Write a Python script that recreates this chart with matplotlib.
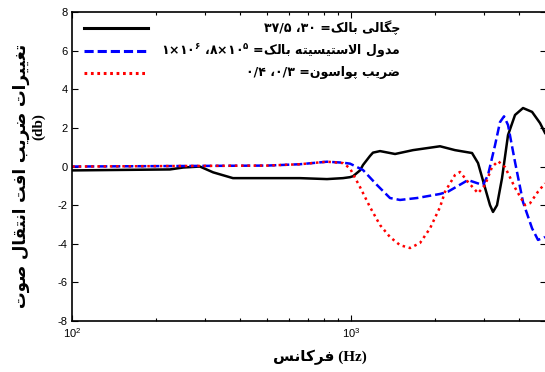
import matplotlib
matplotlib.use('Agg')
import matplotlib.pyplot as plt

# frequency (Hz) / change of transmission loss (dB)
f_rho = [100, 224, 250, 287, 320, 377, 500, 656, 820, 936, 992, 1017, 1077, 1104, 1170, 1199,
         1271, 1439, 1669, 2086, 2361, 2718, 2856, 3026, 3153, 3232, 3341, 3482, 3659, 3877,
         4142, 4463, 4767, 4967]
tl_rho = [-0.2, -0.15, -0.05, 0.0, -0.3, -0.6, -0.6, -0.6, -0.65, -0.6, -0.55, -0.5, -0.2, 0.08,
          0.55, 0.72, 0.8, 0.65, 0.85, 1.05, 0.85, 0.7, 0.18, -1.1, -2.0, -2.35, -2.0, -0.6, 1.63,
          2.67, 3.03, 2.83, 2.25, 1.74]

f_E = [100, 500, 656, 820, 936, 992, 1104, 1240, 1380, 1499, 1725, 2086, 2229, 2629, 2976,
       3101, 3286, 3424, 3540, 3659, 3877, 4142, 4463, 4688, 4967]
tl_E = [0.0, 0.05, 0.12, 0.25, 0.2, 0.15, -0.18, -0.96, -1.63, -1.73, -1.63, -1.42, -1.3, -0.7,
        -0.96, -0.44, 1.1, 2.3, 2.6, 2.15, 0.23, -1.84, -3.2, -3.8, -3.65]

f_nu = [100, 500, 656, 820, 936, 992, 1077, 1170, 1271, 1380, 1499, 1628, 1768, 1921, 2086,
        2175, 2361, 2461, 2629, 2856, 3026, 3205, 3369, 3570, 3877, 4211, 4389, 4688, 4967]
tl_nu = [0.0, 0.05, 0.12, 0.25, 0.18, -0.1, -1.06, -2.1, -3.03, -3.65, -4.07, -4.22, -3.96, -3.2,
         -2.1, -1.3, -0.44, -0.28, -0.8, -1.38, -0.96, -0.03, 0.28, -0.03, -1.1, -2.0, -1.9, -1.3,
         -0.87]

yticks = [-8, -6, -4, -2, 0, 2, 4, 6, 8]

# arabic presentation forms: isolated, final, initial, medial
FORMS = {
    'ا': ('\uFE8D', '\uFE8E', None, None),
    'ب': ('\uFE8F', '\uFE90', '\uFE91', '\uFE92'),
    'پ': ('\uFB56', '\uFB57', '\uFB58', '\uFB59'),
    'ت': ('\uFE95', '\uFE96', '\uFE97', '\uFE98'),
    'چ': ('\uFB7A', '\uFB7B', '\uFB7C', '\uFB7D'),
    'د': ('\uFEA9', '\uFEAA', None, None),
    'ر': ('\uFEAD', '\uFEAE', None, None),
    'س': ('\uFEB1', '\uFEB2', '\uFEB3', '\uFEB4'),
    'ص': ('\uFEB9', '\uFEBA', '\uFEBB', '\uFEBC'),
    'ض': ('\uFEBD', '\uFEBE', '\uFEBF', '\uFEC0'),
    'غ': ('\uFECD', '\uFECE', '\uFECF', '\uFED0'),
    'ف': ('\uFED1', '\uFED2', '\uFED3', '\uFED4'),
    'ق': ('\uFED5', '\uFED6', '\uFED7', '\uFED8'),
    'ک': ('\uFB8E', '\uFB8F', '\uFB90', '\uFB91'),
    'گ': ('\uFB92', '\uFB93', '\uFB94', '\uFB95'),
    'ل': ('\uFEDD', '\uFEDE', '\uFEDF', '\uFEE0'),
    'م': ('\uFEE1', '\uFEE2', '\uFEE3', '\uFEE4'),
    'ن': ('\uFEE5', '\uFEE6', '\uFEE7', '\uFEE8'),
    'ه': ('\uFEE9', '\uFEEA', '\uFEEB', '\uFEEC'),
    'و': ('\uFEED', '\uFEEE', None, None),
    'ی': ('\uFBFC', '\uFBFD', '\uFBFE', '\uFBFF'),
}


def dual(ch):
    return ch in FORMS and FORMS[ch][2] is not None


def fa(word):
    # shape one persian word and return it in visual (left to right) order
    out = []
    i = 0
    while i < len(word):
        c = word[i]
        jp = i > 0 and dual(word[i - 1])
        if c == 'ل' and i + 1 < len(word) and word[i + 1] == 'ا':
            out.append('\uFEFC' if jp else '\uFEFB')
            i += 2
            continue
        jn = dual(c) and i + 1 < len(word) and word[i + 1] in FORMS
        iso, fin, ini, med = FORMS[c]
        if jp and jn:
            out.append(med)
        elif jp:
            out.append(fin)
        elif jn:
            out.append(ini)
        else:
            out.append(iso)
        i += 1
    return ''.join(reversed(out))


def fa_line(*words):
    # words given in reading order, returned right to left
    return ' '.join(fa(w) for w in reversed(words))


lab_rho = '۳۷/۵ ،۳۰ =' + fa_line('چگالی', 'بالک')
lab_E = '۱×۱۰$^{۶}$ ،۸×۱۰$^{۵}$ =' + fa_line('مدول', 'الاستیسیته', 'بالک')
lab_nu = '۰/۴ ،۰/۳ =' + fa_line('ضریب', 'پواسون')
ylab = fa_line('تغییرات', 'ضریب', 'افت', 'انتقال', 'صوت')
xlab = fa('فرکانس') + ' (Hz)'

plt.rcParams['axes.unicode_minus'] = False
plt.rcParams['mathtext.default'] = 'regular'

fig = plt.figure(figsize=(5.45, 3.72), dpi=100)
ax = fig.add_axes([0.1327, 0.137, 0.8688, 0.8306])

ax.plot(f_rho, tl_rho, color='black', lw=1.8, solid_joinstyle='round')
ax.plot(f_E, tl_E, color='#0000ff', lw=1.8, dashes=(3.6, 1.6))
ax.plot(f_nu, tl_nu, color='#ff0000', lw=1.8, linestyle=(0, (1, 1.5)))

ax.set_xscale('log')
ax.set_xlim(100, 5000)
ax.set_ylim(-8, 8)
ax.set_yticks(yticks)
ax.tick_params(which='both', direction='in', top=True, right=True, labelsize=8,
               colors='black', width=0.8)
ax.tick_params(which='major', length=4)
ax.tick_params(which='minor', length=2.5)
for lbl in ax.get_xticklabels() + ax.get_yticklabels():
    lbl.set_family('Liberation Sans')
for s in ax.spines.values():
    s.set_linewidth(1.2)

# legend, drawn by hand so the persian labels can be right aligned
leg_y = [0.949, 0.874, 0.804]
styles = [dict(color='black', lw=2.2),
          dict(color='#0000ff', lw=2.2, dashes=(3, 1.3)),
          dict(color='#ff0000', lw=2.2, linestyle=(0, (0.9, 1.2)))]
for y, st, lab in zip(leg_y, styles, [lab_rho, lab_E, lab_nu]):
    ax.plot([0.025, 0.16], [y, y], transform=ax.transAxes, clip_on=False, **st)
    ax.text(0.692, y, lab, transform=ax.transAxes, ha='right', va='center',
            fontsize=9, fontweight='bold', family='DejaVu Sans')

fig.text(0.587, 0.04, xlab, ha='center', va='center', fontsize=11, fontweight='bold',
         family=['Liberation Serif', 'DejaVu Sans'])
fig.text(0.038, 0.527, ylab, rotation=90, ha='center', va='center', fontsize=12,
         fontweight='bold', family='DejaVu Sans')
fig.text(0.07, 0.661, '(db)', rotation=90, ha='center', va='center', fontsize=11,
         fontweight='bold', family='Liberation Serif')

fig.savefig('out.png', dpi=100)
